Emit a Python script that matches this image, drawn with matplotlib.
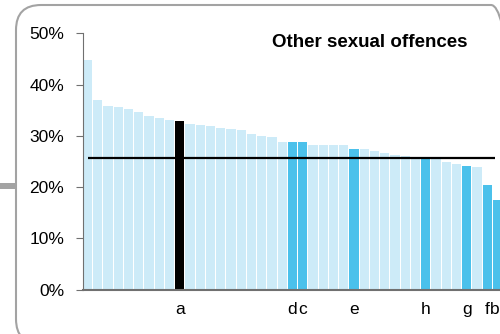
import numpy as np
import matplotlib
matplotlib.use('Agg')
import matplotlib.pyplot as plt
from matplotlib.patches import FancyBboxPatch, Rectangle
from matplotlib.transforms import IdentityTransform, ScaledTranslation

plt.rcParams['font.family'] = ['Liberation Sans', 'DejaVu Sans']

# доли по странам, по убыванию (%)
values = [44.7, 37.0, 35.8, 35.7, 35.2, 34.6, 33.9, 33.4, 33.1, 32.9,
          32.4, 32.2, 32.0, 31.6, 31.4, 31.1, 30.3, 29.95, 29.8, 28.8,
          28.8, 28.8, 28.3, 28.3, 28.3, 28.2, 27.4, 27.4, 27.0, 26.6,
          26.2, 26.0, 25.7, 25.6, 25.4, 24.9, 24.4, 24.2, 24.0, 20.4,
          17.5]
labels = ['', '', '', '', '', '', '', '', '', 'a',
          '', '', '', '', '', '', '', '', '', '',
          'd', 'c', '', '', '', '', 'e', '', '', '',
          '', '', '', 'h', '', '', '', 'g', '', 'f',
          'b']
reference = 'a'
average = 25.7
title = 'Other sexual offences'

light = '#cdebf8'
blue = '#4bc1eb'
colors = []
for lab in labels:
    if lab == reference:
        colors.append('black')
    elif lab:
        colors.append(blue)
    else:
        colors.append(light)

fig = plt.figure(figsize=(5, 3.34), dpi=100)

# рамка с закруглёнными углами
frame = FancyBboxPatch((16, -10), 500, 339, boxstyle='round,pad=0,rounding_size=25',
                       transform=IdentityTransform(), facecolor='none',
                       edgecolor='#a3a3a3', linewidth=1.5)
fig.patches.append(frame)
stub = Rectangle((0, 145.5), 16, 5.5, transform=IdentityTransform(),
                 facecolor='#a3a3a3', edgecolor='none')
fig.patches.append(stub)

ax = fig.add_axes([0.166, 0.1332, 0.834, 0.767])
x = np.arange(len(values))
ax.bar(x, np.array(values) / 100, width=0.9, color=colors, zorder=2)
ax.hlines(average / 100, 0, len(values) - 1.2, color='black', linewidth=1.6, zorder=3)

ax.set_xlim(-0.45, len(values) - 0.75)
ax.set_ylim(0, 0.5)
ax.set_yticks(np.arange(0, 0.51, 0.1))
ax.set_yticklabels([f'{int(round(v * 100))}%' for v in np.arange(0, 0.51, 0.1)])
ax.set_xticks(x)
ax.set_xticklabels(labels)
ax.tick_params(axis='x', length=0, pad=9, labelsize=12.5)
ax.tick_params(axis='y', length=5, color='#707070', labelsize=12.5, pad=8.5)
# последняя подпись у самого края — чуть сдвинуть влево
last = ax.get_xticklabels()[-1]
last.set_transform(last.get_transform() + ScaledTranslation(-0.025, 0, fig.dpi_scale_trans))

for side in ['top', 'right']:
    ax.spines[side].set_visible(False)
ax.spines['left'].set_color('#707070')
ax.spines['bottom'].set_color('#707070')
ax.spines['bottom'].set_linewidth(1.5)
ax.patch.set_alpha(0)

fig.text(0.739, 0.874, title, ha='center', va='center', fontsize=13.5, fontweight='bold')

fig.savefig('out.png', dpi=100)
